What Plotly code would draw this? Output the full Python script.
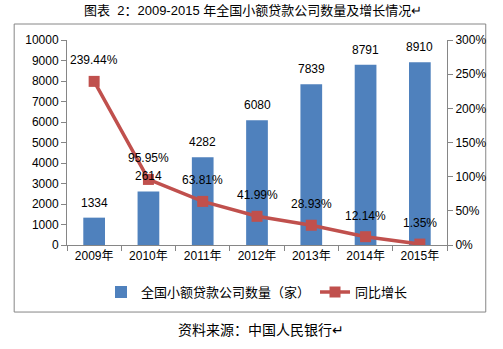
import plotly.graph_objects as go

years = ["2009年", "2010年", "2011年", "2012年", "2013年", "2014年", "2015年"]
counts = [1334, 2614, 4282, 6080, 7839, 8791, 8910]
growth = [239.44, 95.95, 63.81, 41.99, 28.93, 12.14, 1.35]
growth_labels = ["239.44%", "95.95%", "63.81%", "41.99%", "28.93%", "12.14%", "1.35%"]

FONT = "Liberation Sans, Noto Sans CJK SC, sans-serif"
BLUE = "#4F81BD"
RED = "#C0504D"
AXIS = "#868686"

fig = go.Figure()
fig.add_trace(go.Bar(x=years, y=counts, name="全国小额贷款公司数量（家）",
                     marker=dict(color=BLUE, line=dict(width=0)), width=0.4,
                     yaxis="y"))
fig.add_trace(go.Scatter(x=years, y=growth, name="同比增长", mode="lines+markers",
                         line=dict(color=RED, width=3.5),
                         marker=dict(symbol="square", size=11, color=RED),
                         yaxis="y2"))

annotations = []
for x, v in zip(years, counts):
    annotations.append(dict(x=x, y=v, xref="x", yref="y", text=str(v), showarrow=False,
                            yanchor="middle", yshift=15,
                            font=dict(family=FONT, size=12, color="#000")))
for x, v, t in zip(years, growth, growth_labels):
    annotations.append(dict(x=x, y=v, xref="x", yref="y2", text=t, showarrow=False,
                            yanchor="middle", yshift=21,
                            font=dict(family=FONT, size=12, color="#000")))
annotations.append(dict(x=0.49, y=(245 - 10) / 205, xref="paper", yref="paper",
                        yanchor="middle", xanchor="center", showarrow=False,
                        text="图表  2：2009-2015 年全国小额贷款公司数量及增长情况↵",
                        font=dict(family=FONT, size=13, color="#000")))
annotations.append(dict(x=0.51, y=(245 - 330) / 205, xref="paper", yref="paper",
                        yanchor="middle", xanchor="center", showarrow=False,
                        text="资料来源：中国人民银行↵",
                        font=dict(family=FONT, size=14, color="#000")))

fig.update_layout(
    width=503, height=349,
    margin=dict(l=67, r=56, t=40, b=104),
    paper_bgcolor="white", plot_bgcolor="white",
    font=dict(family=FONT, size=12, color="#000"),
    showlegend=True,
    legend=dict(orientation="h", x=0.5, xanchor="center", y=-0.23, yanchor="middle",
                font=dict(family=FONT, size=13, color="#000"), itemwidth=30,
                traceorder="normal"),
    xaxis=dict(showline=True, linecolor=AXIS, linewidth=1, ticks="outside",
               tickcolor=AXIS, ticklen=5, tickson="boundaries", showgrid=False,
               tickfont=dict(family=FONT, size=12, color="#000")),
    yaxis=dict(range=[0, 10000], dtick=1000, tickformat="d", showline=True,
               linecolor=AXIS, linewidth=1, ticks="outside", tickcolor=AXIS,
               ticklen=5, showgrid=False, zeroline=False,
               tickfont=dict(family=FONT, size=12, color="#000")),
    yaxis2=dict(range=[0, 300], dtick=50, ticksuffix="%", overlaying="y", side="right",
                showline=True, linecolor=AXIS, linewidth=1, ticks="outside",
                tickcolor=AXIS, ticklen=5, showgrid=False, zeroline=False,
                tickfont=dict(family=FONT, size=12, color="#000")),
    annotations=annotations,
    shapes=[dict(type="rect", xref="paper", yref="paper",
                 x0=-0.139, x1=1.102, y0=-0.327, y1=1.078,
                 line=dict(color=AXIS, width=1), fillcolor="rgba(0,0,0,0)", layer="below")],
)

fig.write_html("out.html")
